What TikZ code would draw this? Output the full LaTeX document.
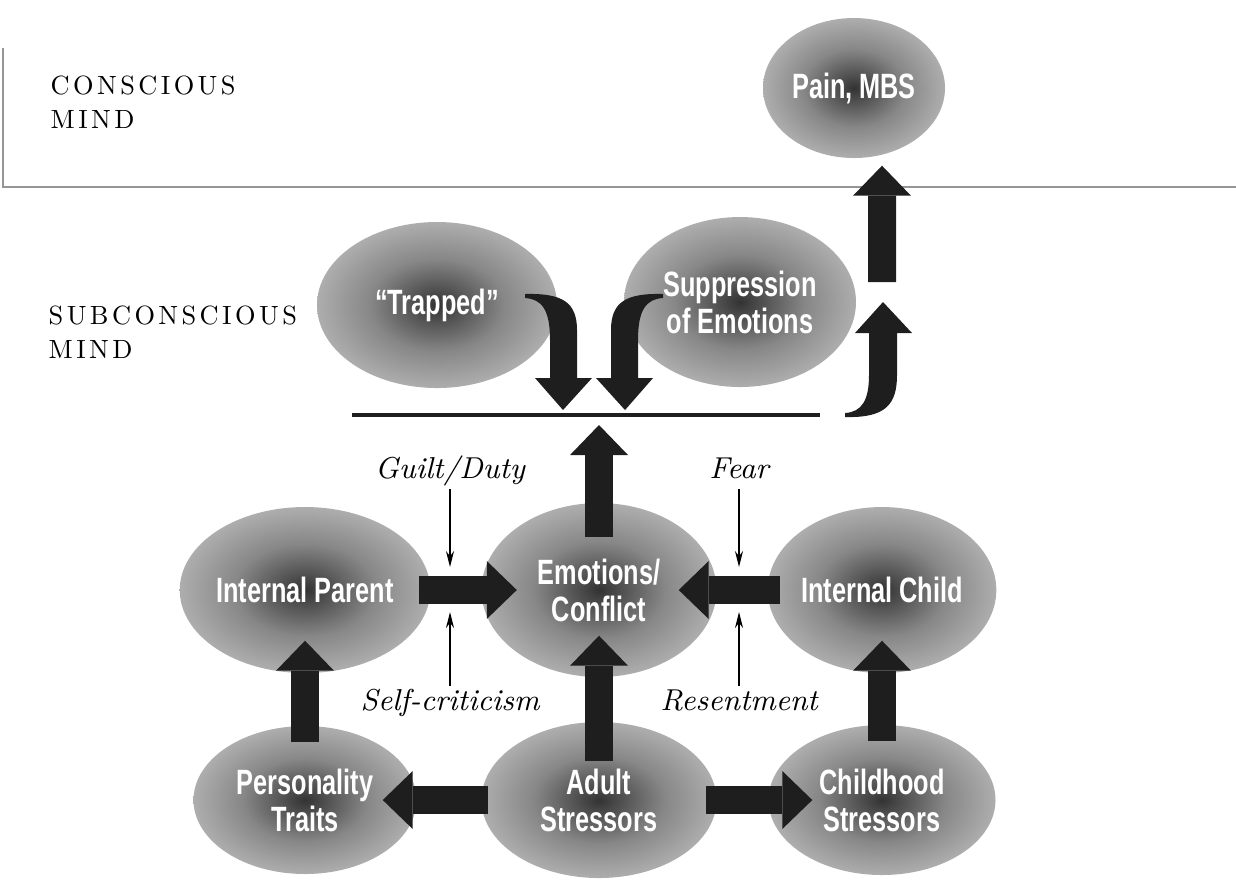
\documentclass[tikz,border=0pt]{standalone}
\usepackage{fontspec}
\usetikzlibrary{positioning,calc,arrows.meta,shapes.geometric}
\newfontfamily\condfont[FakeStretch=0.72]{Liberation Sans}
\newfontfamily\spacedserif[LetterSpace=13]{lmroman10-regular.otf}
\definecolor{ArrowBlack}{RGB}{30,30,30}
\definecolor{RuleGray}{RGB}{150,150,150}
\pgfdeclareradialshading{glow}{\pgfpoint{0bp}{0bp}}{%
  color(0bp)=(black!80); color(5bp)=(black!68); color(14bp)=(black!47);
  color(25bp)=(black!32); color(35bp)=(black!23); color(50bp)=(black!23)}

\begin{document}
\begin{tikzpicture}[
    blob/.style={
        ellipse,
        shading=glow,
        inner sep=0pt,
        align=center,
        text=white,
        font=\condfont\bfseries\fontsize{10}{10.5}\selectfont
    },
    mind/.style={
        anchor=north west,
        align=left,
        inner sep=0pt,
        font=\spacedserif\fontsize{7.5}{9.7}\selectfont
    },
    cue/.style={
        anchor=base,
        inner sep=0pt,
        font=\fontsize{8.6}{10}\selectfont\itshape
    },
    bigarrow/.style={
        line width=2.8mm,
        draw=ArrowBlack,
        -{Triangle[length=3mm,width=5.8mm,line width=0pt]}
    },
    bentarrow/.style={fill=ArrowBlack},
    nudge/.style={
        line width=0.45pt,
        -{Stealth[length=1.6mm,width=0.8mm]}
    }
]
\useasboundingbox (0,0) rectangle (12.36,-8.79);

\coordinate (ruleTop) at (0.03,-0.48);
\coordinate (ruleEnd) at (12.36,-1.87);
\draw[RuleGray, line width=0.25mm] (ruleTop) |- (ruleEnd);

\node[mind] (conscious) at (0.50,-0.75) {CONSCIOUS\\MIND};
\node[mind] (subconscious) at (0.48,-3.05) {SUBCONSCIOUS\\MIND};

\node[blob, minimum width=1.82cm, minimum height=1.40cm] (pain) at (8.54,-0.88) {Pain, MBS};
\node[blob, minimum width=2.40cm, minimum height=1.66cm] (trapped) at (4.37,-3.05) {“Trapped”};
\node[blob, minimum width=2.32cm, minimum height=1.70cm] (suppr) at (7.40,-3.02) {Suppression\\of Emotions};

\node[blob, minimum width=2.35cm, minimum height=1.66cm] (parent) at (3.05,-5.90) {Internal Parent};
\node[blob, minimum width=2.35cm, minimum height=1.74cm] (emotions) at (5.99,-5.90) {Emotions/\\Conflict};
\node[blob, minimum width=2.27cm, minimum height=1.66cm] (child) at (8.82,-5.90) {Internal Child};

\node[blob, minimum width=2.23cm, minimum height=1.48cm] (traits) at (3.05,-8.00) {Personality\\Traits};
\node[blob, minimum width=2.35cm, minimum height=1.56cm] (adult) at (5.99,-8.00) {Adult\\Stressors};
\node[blob, minimum width=2.27cm, minimum height=1.50cm] (childhood) at (8.82,-8.00) {Childhood\\Stressors};

\coordinate (lineL) at (3.52,-4.15);
\coordinate (lineR) at (8.20,-4.15);
\coordinate (hub) at (5.99,-4.15);
\coordinate (rise) at (8.82,-2.82);
\draw[ArrowBlack, line width=0.4mm] (lineL) -- (lineR);

\fill[bentarrow] (5.25,-2.94) .. controls (5.62,-2.93) and (5.77,-3.02) .. (5.77,-3.30)
    -- (5.77,-3.78) -- (5.92,-3.78) -- (5.63,-4.10) -- (5.35,-3.78) -- (5.50,-3.78)
    -- (5.50,-3.40) .. controls (5.50,-3.10) and (5.42,-2.99) .. (5.25,-2.98) -- cycle;
\fill[bentarrow] (6.63,-2.94) .. controls (6.26,-2.93) and (6.11,-3.02) .. (6.11,-3.30)
    -- (6.11,-3.78) -- (5.96,-3.78) -- (6.25,-4.10) -- (6.53,-3.78) -- (6.38,-3.78)
    -- (6.38,-3.40) .. controls (6.38,-3.10) and (6.46,-2.99) .. (6.63,-2.98) -- cycle;
\fill[bentarrow] (8.45,-4.17) .. controls (8.85,-4.18) and (8.97,-4.05) .. (8.97,-3.75)
    -- (8.97,-3.33) -- (9.12,-3.33) -- (8.83,-3.02) -- (8.55,-3.33) -- (8.69,-3.33)
    -- (8.69,-3.75) .. controls (8.69,-4.00) and (8.62,-4.12) .. (8.45,-4.13) -- cycle;

\draw[bigarrow] (rise) -- ([xshift=2.8mm,yshift=-0.7mm]pain.south);
\draw[bigarrow] ([yshift=-3.5mm]emotions.north) -- ([yshift=-1mm]hub);
\draw[bigarrow] ([xshift=-1.2mm]parent.east) -- ([xshift=3.6mm]emotions.west);
\draw[bigarrow] ([xshift=1.35mm]child.west) -- ([xshift=-3.85mm]emotions.east);
\draw[bigarrow] ([yshift=-1.7mm]traits.north) -- ([yshift=3.3mm]parent.south);
\draw[bigarrow] ([yshift=-4mm]adult.north) -- ([yshift=4.2mm]emotions.south);
\draw[bigarrow] ([yshift=-1.7mm]childhood.north) -- ([yshift=3.3mm]child.south);
\draw[bigarrow] ([xshift=0.75mm]adult.west) -- ([xshift=-3.45mm]traits.east);
\draw[bigarrow] ([xshift=-1.15mm]adult.east) -- ([xshift=4.45mm]childhood.west);

\node[cue] (guilt) at (4.50,-4.78) {Guilt/Duty};
\node[cue] (fear) at (7.39,-4.78) {Fear};
\node[cue] (selfcrit) at (4.50,-7.10) {Self-criticism};
\node[cue] (resent) at (7.39,-7.10) {Resentment};

\coordinate (guiltTip) at (4.50,-5.67);
\coordinate (fearTip) at (7.39,-5.67);
\coordinate (selfcritTip) at (4.50,-6.12);
\coordinate (resentTip) at (7.39,-6.12);
\draw[nudge] ([yshift=-1.1mm]guilt.base) -- (guiltTip);
\draw[nudge] ([yshift=-1.1mm]fear.base) -- (fearTip);
\draw[nudge] ([yshift=2.4mm]selfcrit.base) -- (selfcritTip);
\draw[nudge] ([yshift=2.4mm]resent.base) -- (resentTip);

\end{tikzpicture}
\end{document}
